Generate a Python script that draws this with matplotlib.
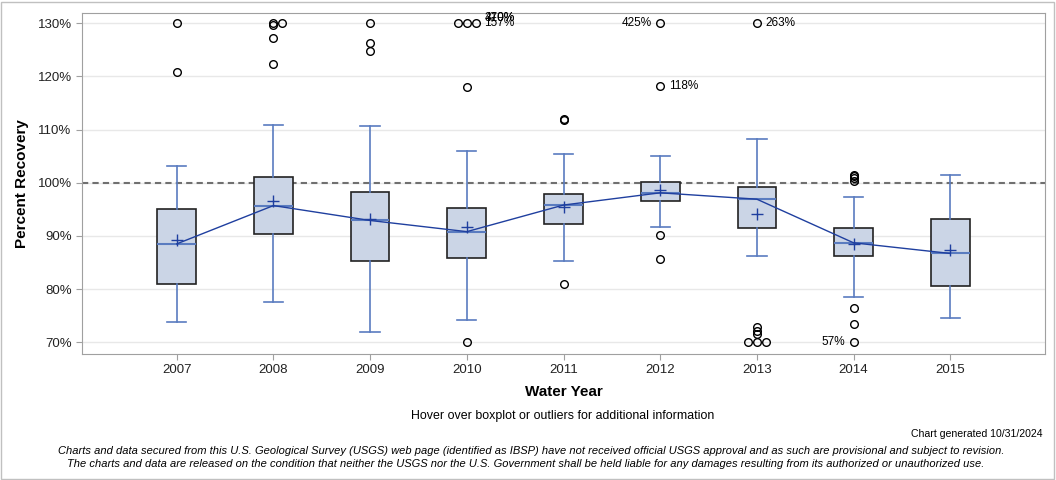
import numpy as np
import matplotlib.pyplot as plt
from matplotlib.patches import Rectangle

# data -----------------------------------------------------------------------
years   = ["2007", "2008", "2009", "2010", "2011", "2012", "2013", "2014", "2015"]
whislo  = [73.8, 77.5, 72.0, 74.2, 85.3, 91.6, 86.3, 78.5, 74.5]
q1      = [80.9, 90.3, 85.3, 85.8, 92.3, 96.5, 91.4, 86.3, 80.6]
medians = [88.5, 95.7, 92.9, 90.8, 95.8, 98.1, 96.9, 88.7, 86.7]
q3      = [95.0, 101.1, 98.3, 95.2, 97.9, 100.2, 99.2, 91.4, 93.1]
whishi  = [103.1, 110.8, 110.7, 105.9, 105.4, 105.0, 108.3, 97.4, 101.4]
means   = [89.3, 96.6, 93.1, 91.7, 95.5, 98.7, 94.1, 88.5, 87.3]
outliers = [
    [130.0, 120.9],
    [130.0, 130.0, 129.7, 127.2, 122.4],
    [130.0, 126.3, 124.8],
    [130.0, 130.0, 130.0, 118.0, 70.0],
    [111.9, 111.8, 81.0],
    [130.0, 118.2, 90.1, 85.6],
    [130.0, 72.8, 72.2, 71.6, 70.0, 70.0, 70.0],
    [101.5, 101.2, 100.8, 100.4, 76.5, 73.4, 70.0],
    [],
]
# off-scale outliers are pinned at 130 / 70 and labelled with true value
labels = [
    (3, 130.0, "157%", "right"),
    (3, 131.0, "370%", "right"),
    (3, 131.0, "410%", "right"),
    (5, 130.0, "425%", "left"),
    (5, 118.2, "118%", "right"),
    (6, 130.0, "263%", "right"),
    (7, 70.0, "57%", "left"),
]

plt.rcParams["font.family"] = ["Liberation Sans", "DejaVu Sans"]

BOX_FILL = "#cbd5e6"
BLUE = "#1f3f9f"
LIGHT_BLUE = "#5a7cc0"

fig = plt.figure(figsize=(10.56, 4.8), dpi=100)
ax = fig.add_axes([82 / 1056, 1 - 354 / 480, (1045 - 82) / 1056, (354 - 13) / 480])

stats = []
for i in range(len(years)):
    stats.append({"whislo": whislo[i], "q1": q1[i], "med": medians[i],
                  "q3": q3[i], "whishi": whishi[i], "fliers": []})
pos = np.arange(len(years))
ax.bxp(stats, positions=pos, widths=0.4, patch_artist=True, showfliers=False,
       boxprops=dict(facecolor=BOX_FILL, edgecolor="#222222", lw=1.2),
       medianprops=dict(color=LIGHT_BLUE, lw=1.5),
       whiskerprops=dict(color=LIGHT_BLUE, lw=1.2),
       capprops=dict(color=LIGHT_BLUE, lw=1.2), capwidths=0.2,
       zorder=3)

# median connecting line and mean markers
ax.plot(pos, medians, color=BLUE, lw=1, zorder=4)
ax.plot(pos, means, "+", color=BLUE, ms=9, mew=1, zorder=5)

# outliers, exact duplicates spread sideways
for i, vals in enumerate(outliers):
    uniq, counts = np.unique(vals, return_counts=True)
    for v, n in zip(uniq, counts):
        offs = (np.arange(n) - (n - 1) // 2) * 0.093
        ax.plot(pos[i] + offs, [v] * n, "o", mfc="none", mec="black",
                ms=5.5, mew=1, zorder=6, clip_on=False)

for i, v, txt, side in labels:
    if side == "right":
        n = outliers[i].count(v) if v in outliers[i] else 1
        x = pos[i] + ((n - 1) - (n - 1) // 2) * 0.093 + 0.09
        if i == 3:
            x = pos[i] + 0.18
        ax.text(x, v, txt, ha="left", va="center", fontsize=8.5, zorder=7)
    else:
        ax.text(pos[i] - 0.09, v, txt, ha="right", va="center", fontsize=8.5,
                zorder=7)

ax.axhline(100, color="#707070", ls=(0, (3, 2)), lw=1.5, zorder=2)

ax.set_xlim(-0.98, len(years) - 0.02)
ax.set_ylim(67.8, 131.9)
ax.set_yticks(np.arange(70, 131, 10))
ax.set_yticklabels([f"{v}%" for v in range(70, 131, 10)], fontsize=9.5)
ax.set_xticks(pos)
ax.set_xticklabels(years, fontsize=9.5)
ax.yaxis.grid(True, color="#e8e8e8", lw=1)
ax.set_axisbelow(True)
for s in ax.spines.values():
    s.set_color("#a0a0a0")
ax.tick_params(colors="#222222", length=4, color="#a0a0a0")
ax.set_xlabel("Water Year", fontsize=11, fontweight="bold", labelpad=6)
ax.set_ylabel("Percent Recovery", fontsize=11, fontweight="bold", labelpad=6)

fig.text(563 / 1056, 1 - 416 / 480, "Hover over boxplot or outliers for additional information",
         ha="center", va="center", fontsize=8.9)
fig.text(1043 / 1056, 1 - 434 / 480, "Chart generated 10/31/2024",
         ha="right", va="center", fontsize=7.6)
fig.text(531 / 1056, 1 - 451 / 480,
         "Charts and data secured from this U.S. Geological Survey (USGS) web page (identified as IBSP) have not received official USGS approval and as such are provisional and subject to revision.",
         ha="center", va="center", fontsize=8.0, style="italic")
fig.text(526 / 1056, 1 - 464 / 480,
         "The charts and data are released on the condition that neither the USGS nor the U.S. Government shall be held liable for any damages resulting from its authorized or unauthorized use.",
         ha="center", va="center", fontsize=8.0, style="italic")

fig.patches.append(Rectangle((1 / 1056, 1 / 480), 1053 / 1056, 477 / 480,
                             transform=fig.transFigure, fill=False,
                             edgecolor="#c0c0c0", lw=1))

fig.savefig("out.png", dpi=100)
